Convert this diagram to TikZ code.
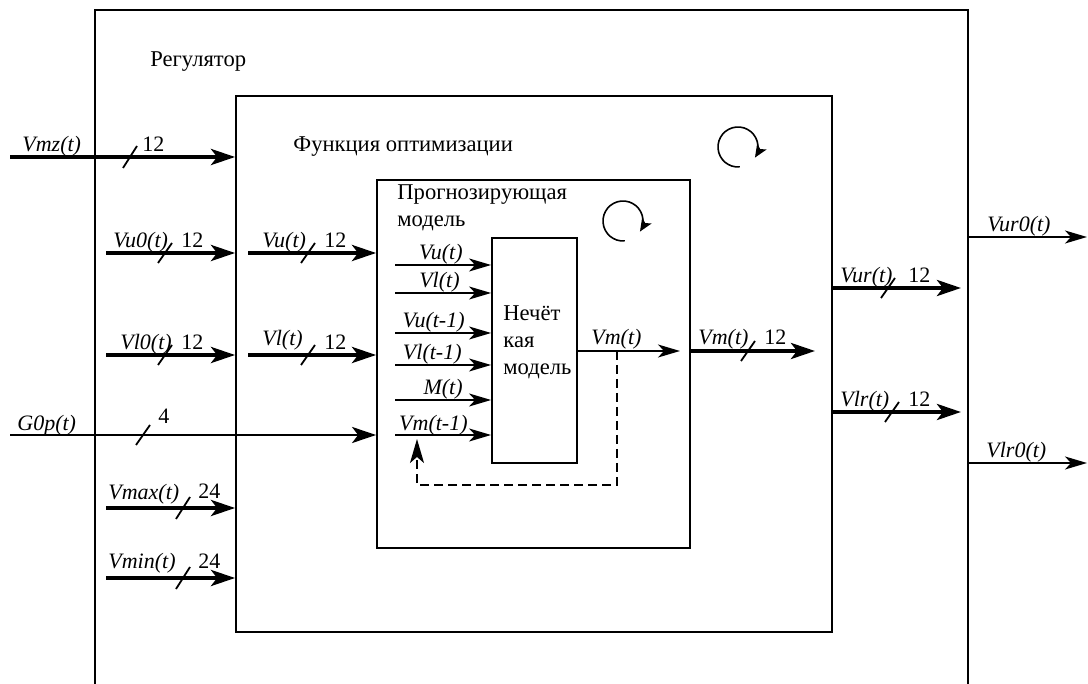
\documentclass[tikz,border=0pt]{standalone}
\usepackage{fontspec}
\setmainfont{Liberation Serif}
\usetikzlibrary{arrows.meta,fit}

\begin{document}
\begin{tikzpicture}[x=0.5pt,y=-0.5pt,
    box/.style={draw, line width=0.9pt, inner sep=0pt},
    bus/.style={line width=2pt, -{Stealth[length=12pt,width=8pt,inset=3pt]}},
    mid/.style={line width=1.3pt, -{Stealth[length=12pt,width=8pt,inset=3pt]}},
    sig/.style={line width=0.8pt, -{Stealth[length=11pt,width=6.5pt,inset=3pt]}},
    slash/.style={line width=0.9pt},
    fb/.style={line width=0.8pt, dash pattern=on 4.5pt off 2.5pt, -{Stealth[length=12pt,width=7pt,inset=3pt]}},
    loop/.style={line width=0.8pt, -{Stealth[length=6.5pt,width=5.5pt,inset=1.5pt]}},
    lbl/.style={font=\fontsize{11}{13}\selectfont\itshape, inner sep=0pt, anchor=base west},
    num/.style={font=\fontsize{11}{13}\selectfont, inner sep=0pt, anchor=base west},
    txt/.style={font=\fontsize{11.3}{13.5}\selectfont, inner sep=0pt, anchor=west}]
    \useasboundingbox (0,0) rectangle (1088,684);

    % Regulator, open at the bottom
    \coordinate (regSW) at (95,684);
    \coordinate (regNW) at (95,10);
    \coordinate (regNE) at (968,10);
    \coordinate (regSE) at (968,684);
    \draw[line width=0.9pt] (regSW) -- (regNW) -- (regNE) -- (regSE);
    \node[txt] (reg) at (150,62) {Регулятор};

    % nested blocks
    \node[box, fit={(236,96) (832,632)}] (opt) {};
    \node[box, fit={(377,180) (690,548)}] (prog) {};
    \node[box, fit={(492,238) (577,463)}] (fuzzy) {};
    \node[txt] (optname) at (293,147) {Функция оптимизации};
    \node[txt, align=left, anchor=north west] (progname) at (397,184) {Прогнозирующая\\модель};
    \node[txt, align=left] (fuzzyname) at (503,342) {Нечёт\\кая\\модель};

    % loop marks
    \draw[loop] (738,147) ++(85:20) arc[start angle=85, end angle=392, radius=20];
    \draw[loop] (623,221) ++(85:20) arc[start angle=85, end angle=392, radius=20];

    % inputs of the regulator
    \coordinate (vmz) at (10,157);
    \draw[bus] (vmz) -- (vmz -| opt.west);
    \draw[slash] (130,157) ++(-7,11) -- ++(14,-22);
    \node[lbl] (vmzl) at (22,152) {Vmz(t)};
    \node[num] (vmzn) at (142,152) {12};

    \coordinate (vu0) at (106,253);
    \draw[bus] (vu0) -- (vu0 -| opt.west);
    \draw[slash] (165,253) ++(-7,10) -- ++(14,-20);
    \node[lbl] (vu0l) at (113,248) {Vu0(t)};
    \node[num] (vu0n) at (181,248) {12};

    \coordinate (vu) at (248,253);
    \draw[bus] (vu) -- (vu -| prog.west);
    \draw[slash] (308,253) ++(-7,10) -- ++(14,-20);
    \node[lbl] (vul) at (262,248) {Vu(t)};
    \node[num] (vun) at (324,248) {12};

    \coordinate (vl0) at (106,355);
    \draw[bus] (vl0) -- (vl0 -| opt.west);
    \draw[slash] (165,355) ++(-7,10) -- ++(14,-20);
    \node[lbl] (vl0l) at (120,350) {Vl0(t)};
    \node[num] (vl0n) at (181,350) {12};

    \coordinate (vl) at (248,355);
    \draw[bus] (vl) -- (vl -| prog.west);
    \draw[slash] (308,355) ++(-7,10) -- ++(14,-20);
    \node[lbl] (vll) at (262,346) {Vl(t)};
    \node[num] (vln) at (324,350) {12};

    \coordinate (g0p) at (10,435);
    \draw[mid] (g0p) -- (g0p -| prog.west);
    \draw[slash] (143,435) ++(-7,10) -- ++(14,-20);
    \node[lbl] (g0pl) at (17,430) {G0p(t)};
    \node[num] (g0pn) at (158,423) {4};

    \coordinate (vmax) at (106,508);
    \draw[bus] (vmax) -- (vmax -| opt.west);
    \draw[slash] (183,508) ++(-7,11) -- ++(14,-22);
    \node[lbl] (vmaxl) at (108,499) {Vmax(t)};
    \node[num] (vmaxn) at (198,498) {24};

    \coordinate (vmin) at (106,578);
    \draw[bus] (vmin) -- (vmin -| opt.west);
    \draw[slash] (183,578) ++(-7,11) -- ++(14,-22);
    \node[lbl] (vminl) at (108,568) {Vmin(t)};
    \node[num] (vminn) at (198,568) {24};

    % inputs of the fuzzy model
    \coordinate (in1) at (395,265);
    \coordinate (in2) at (395,293);
    \coordinate (in3) at (395,333);
    \coordinate (in4) at (395,365);
    \coordinate (in5) at (395,400);
    \coordinate (in6) at (395,435);
    \draw[sig] (in1) -- (in1 -| fuzzy.west);
    \draw[sig] (in2) -- (in2 -| fuzzy.west);
    \draw[sig] (in3) -- (in3 -| fuzzy.west);
    \draw[sig] (in4) -- (in4 -| fuzzy.west);
    \draw[sig] (in5) -- (in5 -| fuzzy.west);
    \draw[sig] (in6) -- (in6 -| fuzzy.west);
    \node[lbl, anchor=base east] (in1l) at (463,260) {Vu(t)};
    \node[lbl, anchor=base east] (in2l) at (460,288) {Vl(t)};
    \node[lbl, anchor=base east] (in3l) at (465,328) {Vu(t-1)};
    \node[lbl, anchor=base east] (in4l) at (462,360) {Vl(t-1)};
    \node[lbl, anchor=base east] (in5l) at (463,395) {M(t)};
    \node[lbl, anchor=base east] (in6l) at (468,430) {Vm(t-1)};

    % model output and feedback
    \coordinate (vmout) at (680,351);
    \coordinate (tap) at (617,351);
    \coordinate (fbdown) at (417,485);
    \coordinate (fbtip) at (417,439);
    \draw[sig] (fuzzy.east |- vmout) -- (vmout);
    \node[lbl] (vmoutl) at (591,345) {Vm(t)};
    \draw[fb] (tap) |- (fbdown) -- (fbtip);

    \coordinate (vm) at (815,351);
    \draw[bus] (prog.east |- vm) -- (vm);
    \draw[slash] (748,351) ++(-7,10) -- ++(14,-20);
    \node[lbl] (vml) at (698,345) {Vm(t)};
    \node[num] (vmn) at (764,345) {12};

    % outputs
    \coordinate (vur) at (961,288);
    \draw[bus] (opt.east |- vur) -- (vur);
    \draw[slash] (888,288) ++(-7,10) -- ++(14,-20);
    \node[lbl] (vurl) at (840,283) {Vur(t)};
    \node[num] (vurn) at (908,283) {12};

    \coordinate (vlr) at (961,412);
    \draw[bus] (opt.east |- vlr) -- (vlr);
    \draw[slash] (892,412) ++(-7,10) -- ++(14,-20);
    \node[lbl] (vlrl) at (840,407) {Vlr(t)};
    \node[num] (vlrn) at (908,407) {12};

    \coordinate (vur0) at (1087,237);
    \draw[sig] (regNE |- vur0) -- (vur0);
    \node[lbl] (vur0l) at (987,232) {Vur0(t)};

    \coordinate (vlr0) at (1087,463);
    \draw[sig] (regNE |- vlr0) -- (vlr0);
    \node[lbl] (vlr0l) at (986,458) {Vlr0(t)};
\end{tikzpicture}
\end{document}
